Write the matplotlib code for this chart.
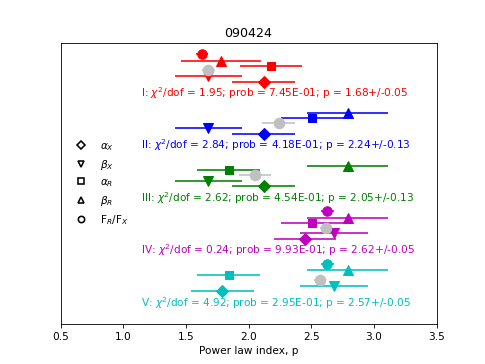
import numpy as np
import matplotlib
matplotlib.use("Agg")
from matplotlib import pyplot as plt

# fit groups, top to bottom
groups = ['I', 'II', 'III', 'IV', 'V']
colors = ['r', 'b', 'g', 'm', 'c']

alpha_x = [2.12, 2.12, 2.12, 2.45, 1.79]
alpha_x_err = [0.25, 0.25, 0.25, 0.25, 0.25]
beta_x = [1.68, 1.68, 1.68, 2.68, 2.68]
beta_x_err = [0.27, 0.27, 0.27, 0.27, 0.27]
alpha_r = [2.18, 2.51, 1.84, 2.51, 1.84]
alpha_r_err = [0.25, 0.25, 0.25, 0.25, 0.25]
beta_r = [1.78, 2.79, 2.79, 2.79, 2.79]
beta_r_err = [0.32, 0.32, 0.32, 0.32, 0.32]
ratio = [1.63, np.nan, np.nan, 2.63, 2.63]
ratio_err = [0.05, np.nan, np.nan, 0.05, 0.05]

p_fit = [1.68, 2.24, 2.05, 2.62, 2.57]
p_err = [0.05, 0.13, 0.13, 0.05, 0.05]
chi2 = [1.95, 2.84, 2.62, 0.24, 4.92]
prob = ['7.45E-01', '4.18E-01', '4.54E-01', '9.93E-01', '2.95E-01']

dpi = 485 / 6.4
fig = plt.figure(figsize=(6.4, 364.4 / dpi), dpi=dpi)
ax = fig.add_subplot(111)

ms = 9
for i, g in enumerate(groups):
    y0 = 5 - i
    c = colors[i]
    ax.errorbar(beta_x[i], y0 - 0.419, xerr=beta_x_err[i], fmt='v', color=c, ms=ms)
    ax.errorbar(beta_r[i], y0 - 0.126, xerr=beta_r_err[i], fmt='^', color=c, ms=ms)
    ax.errorbar(alpha_r[i], y0 - 0.219, xerr=alpha_r_err[i], fmt='s', color=c, ms=ms - 1)
    ax.errorbar(alpha_x[i], y0 - 0.524, xerr=alpha_x_err[i], fmt='D', color=c, ms=ms - 1)
    if not np.isnan(ratio[i]):
        ax.errorbar(ratio[i], y0, xerr=ratio_err[i], fmt='o', color=c, ms=ms)
    ax.errorbar(p_fit[i], y0 - 0.309, xerr=p_err[i], fmt='o', color='silver', ms=ms + 1)
    ax.text(1.145, y0 - 0.735,
            r'%s: $\chi^2$/dof = %.2f; prob = %s; p = %.2f+/-%.2f'
            % (g, chi2[i], prob[i], p_fit[i], p_err[i]),
            color=c, va='center', ha='left', fontsize=10)

# legend with open markers
for m, lab in [('D', r'$\alpha_X$'), ('v', r'$\beta_X$'), ('s', r'$\alpha_R$'),
               ('^', r'$\beta_R$'), ('o', r'F$_R$/F$_X$')]:
    ax.plot([], [], m, mfc='none', mec='k', mew=1.5, ms=6, label=lab)
ax.legend(loc='center left', frameon=False, numpoints=1)

ax.set_xlim(0.5, 3.5)
ax.set_ylim(-0.145, 5.204)
ax.set_yticks([])
ax.set_xlabel('Power law index, p')
ax.set_title('090424')

plt.savefig('out.png', dpi=dpi)
